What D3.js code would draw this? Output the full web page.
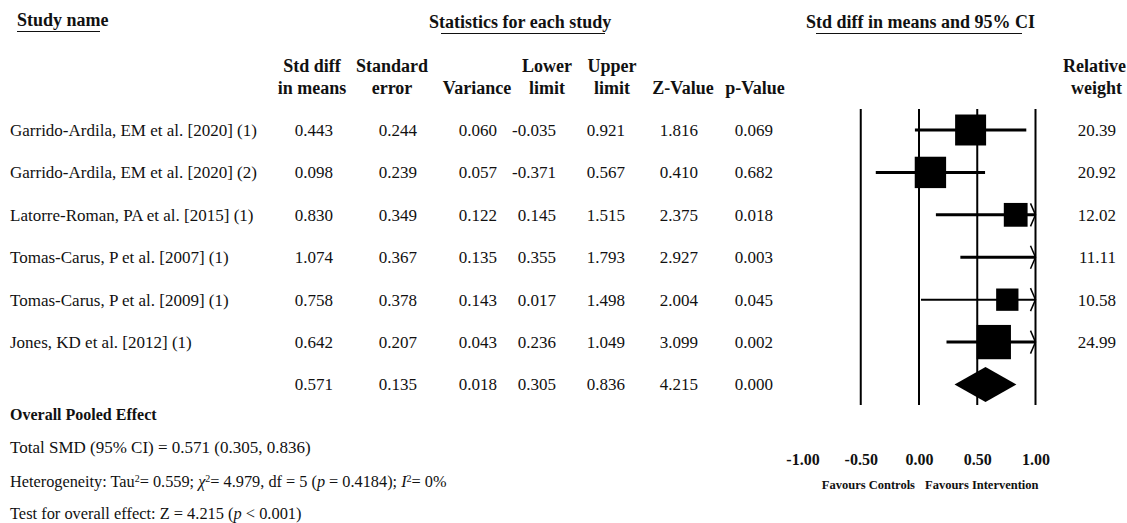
<!DOCTYPE html>
<html>
<head>
<meta charset="utf-8">
<script src="https://cdn.jsdelivr.net/npm/d3@7"></script>
<style>
  body { margin: 0; background: #fff; }
  text { font-family: "Liberation Serif", "DejaVu Serif", serif; fill: #111; }
  .hd { font-weight: bold; font-size: 18px; }
  .cell { font-size: 17px; }
</style>
</head>
<body>
<div id="chart"></div>
<script>
// study data
const studies = [
  "Garrido-Ardila, EM et al. [2020] (1)",
  "Garrido-Ardila, EM et al. [2020] (2)",
  "Latorre-Roman, PA et al. [2015] (1)",
  "Tomas-Carus, P et al. [2007] (1)",
  "Tomas-Carus, P et al. [2009] (1)",
  "Jones, KD et al. [2012] (1)"
];
const smd = [0.443, 0.098, 0.830, 1.074, 0.758, 0.642];
const stdErr = [0.244, 0.239, 0.349, 0.367, 0.378, 0.207];
const variance = [0.060, 0.057, 0.122, 0.135, 0.143, 0.043];
const lower = [-0.035, -0.371, 0.145, 0.355, 0.017, 0.236];
const upper = [0.921, 0.567, 1.515, 1.793, 1.498, 1.049];
const zValue = [1.816, 0.410, 2.375, 2.927, 2.004, 3.099];
const pValue = [0.069, 0.682, 0.018, 0.003, 0.045, 0.002];
const weight = [20.39, 20.92, 12.02, 11.11, 10.58, 24.99];

// pooled row: smd, se, variance, lower, upper, z, p
const pooled = [0.571, 0.135, 0.018, 0.305, 0.836, 4.215, 0.000];

const axisTicks = [-1, -0.5, 0, 0.5, 1];
const gridLines = [-0.5, 0, 0.5, 1];

const svgWidth = 1127;
const svgHeight = 523;

const svg = d3.select("#chart")
  .append("svg")
  .attr("width", svgWidth)
  .attr("height", svgHeight);

// plain hyphen instead of the unicode minus
const f3 = v => d3.format(".3f")(v).replace("\u2212", "-");
const f2 = v => d3.format(".2f")(v).replace("\u2212", "-");

// row positions
const rowY = d3.scaleLinear().domain([0, 6]).range([130, 384.5]);

// x scale for the plot
const xScale = d3.scaleLinear().domain([-1, 1]).range([802.5, 1035.5]);
const boxSize = d3.scaleSqrt().domain([0, 25]).range([0, 34.3]);

// titles
function underlined(x, y, txt, u0, u1) {
  svg.append("text").attr("class", "hd").attr("x", x).attr("y", y).text(txt);
  svg.append("line").attr("x1", u0).attr("x2", u1).attr("y1", y + 5.5).attr("y2", y + 5.5)
    .attr("stroke", "#111").attr("stroke-width", 1.2);
}
underlined(17, 26, "Study name", 17, 100);
underlined(429, 28, "Statistics for each study", 441, 605);
underlined(806, 28, "Std diff in means and 95% CI", 816, 1022);

// column headers and cell positions (right edge of the values)
const cols = [
  { h: ["Std diff", "in means"], hx: 312, vx: 333, vals: smd },
  { h: ["Standard", "error"], hx: 392, vx: 417, vals: stdErr },
  { h: ["", "Variance"], hx: 477, vx: 497, vals: variance },
  { h: ["Lower", "limit"], hx: 547, vx: 556, vals: lower },
  { h: ["Upper", "limit"], hx: 612, vx: 625, vals: upper },
  { h: ["", "Z-Value"], hx: 683, vx: 698, vals: zValue },
  { h: ["", "p-Value"], hx: 755, vx: 773, vals: pValue }
];

cols.forEach((c, ci) => {
  c.h.forEach((t, li) => {
    svg.append("text").attr("class", "hd")
      .attr("x", c.hx).attr("y", 72 + li * 21.5)
      .attr("text-anchor", "middle").text(t);
  });
  svg.selectAll(null).data(c.vals).enter().append("text")
    .attr("class", "cell")
    .attr("x", c.vx).attr("y", (d, i) => rowY(i)).attr("dy", "0.35em")
    .attr("text-anchor", "end").text(d => f3(d));
  svg.append("text").attr("class", "cell")
    .attr("x", c.vx).attr("y", rowY(6)).attr("dy", "0.35em")
    .attr("text-anchor", "end").text(f3(pooled[ci]));
});

svg.append("text").attr("class", "hd").attr("x", 1126).attr("y", 72).attr("text-anchor", "end").text("Relative");
svg.append("text").attr("class", "hd").attr("x", 1122).attr("y", 93.5).attr("text-anchor", "end").text("weight");

// study names
svg.selectAll(".name").data(studies).enter().append("text")
  .attr("class", "cell")
  .attr("x", 10).attr("y", (d, i) => rowY(i)).attr("dy", "0.35em").text(d => d);

// weights
svg.selectAll(".wt").data(weight).enter().append("text")
  .attr("class", "cell")
  .attr("x", 1116).attr("y", (d, i) => rowY(i)).attr("dy", "0.35em")
  .attr("text-anchor", "end").text(d => f2(d));

// vertical reference lines
svg.selectAll(".grid").data(gridLines).enter().append("line")
  .attr("x1", d => xScale(d)).attr("x2", d => xScale(d))
  .attr("y1", 109).attr("y2", 405)
  .attr("stroke", "#000").attr("stroke-width", 2);

// CI lines, clipped at the plot edge
const [xMin, xMax] = xScale.domain();
const plot = svg.append("g");
studies.forEach((s, i) => {
  const y = rowY(i);
  const lo = Math.max(lower[i], xMin);
  const hi = Math.min(upper[i], xMax);
  plot.append("line")
    .attr("x1", xScale(lo)).attr("x2", xScale(hi))
    .attr("y1", y).attr("y2", y)
    .attr("stroke", "#000").attr("stroke-width", i === 4 ? 2 : 3);
  if (upper[i] > xMax) {
    const ax = xScale(xMax);
    plot.append("path")
      .attr("d", `M${ax - 5},${y - 11.5}L${ax},${y}L${ax - 5},${y + 11.5}`)
      .attr("fill", "none").attr("stroke", "#000").attr("stroke-width", 1.5);
  }
  if (smd[i] <= xMax) {
    const b = boxSize(weight[i]);
    plot.append("rect")
      .attr("x", xScale(smd[i]) - b / 2).attr("y", y - b / 2)
      .attr("width", b).attr("height", b).attr("fill", "#000");
  }
});

// pooled diamond
const dy = rowY(6);
plot.append("path")
  .attr("d", `M${xScale(pooled[3])},${dy}L${xScale(pooled[0])},${dy - 17.5}L${xScale(pooled[4])},${dy}L${xScale(pooled[0])},${dy + 17.5}Z`)
  .attr("fill", "#000");

// axis labels
const axis = d3.axisBottom(xScale).tickValues(axisTicks).tickFormat(f2).tickSize(0).tickPadding(0);
const axisG = svg.append("g").attr("transform", "translate(0,465)").call(axis);
axisG.select(".domain").remove();
axisG.selectAll("text")
  .attr("dy", 0)
  .style("font-family", "'Liberation Serif', serif")
  .style("font-size", "16px").style("font-weight", "bold").style("fill", "#111");

svg.append("text").attr("x", 915).attr("y", 489).attr("text-anchor", "end")
  .style("font-size", "12.5px").style("font-weight", "bold").text("Favours Controls");
svg.append("text").attr("x", 925).attr("y", 489)
  .style("font-size", "12.5px").style("font-weight", "bold").text("Favours Intervention");

// summary notes
const notes = svg.append("g").style("font-size", "17px");
notes.append("text").attr("x", 10).attr("y", 420).style("font-weight", "bold").style("font-size", "16px")
  .text("Overall Pooled Effect");
notes.append("text").attr("x", 10).attr("y", 453).text("Total SMD (95% CI) = 0.571 (0.305, 0.836)");
const het = notes.append("text").attr("x", 10).attr("y", 487).style("font-size", "16.3px");
het.append("tspan").text("Heterogeneity: Tau");
het.append("tspan").attr("baseline-shift", "super").style("font-size", "10px").text("2");
het.append("tspan").text("= 0.559; ");
het.append("tspan").style("font-style", "italic").text("χ");
het.append("tspan").attr("baseline-shift", "super").style("font-size", "10px").text("2");
het.append("tspan").text("= 4.979, df = 5 (");
het.append("tspan").style("font-style", "italic").text("p");
het.append("tspan").text(" = 0.4184); ");
het.append("tspan").style("font-style", "italic").text("I");
het.append("tspan").attr("baseline-shift", "super").style("font-size", "10px").text("2");
het.append("tspan").text("= 0%");
const test = notes.append("text").attr("x", 10).attr("y", 519).style("font-size", "16.4px");
test.append("tspan").text("Test for overall effect: Z = 4.215 (");
test.append("tspan").style("font-style", "italic").text("p");
test.append("tspan").text(" < 0.001)");
</script>
</body>
</html>
